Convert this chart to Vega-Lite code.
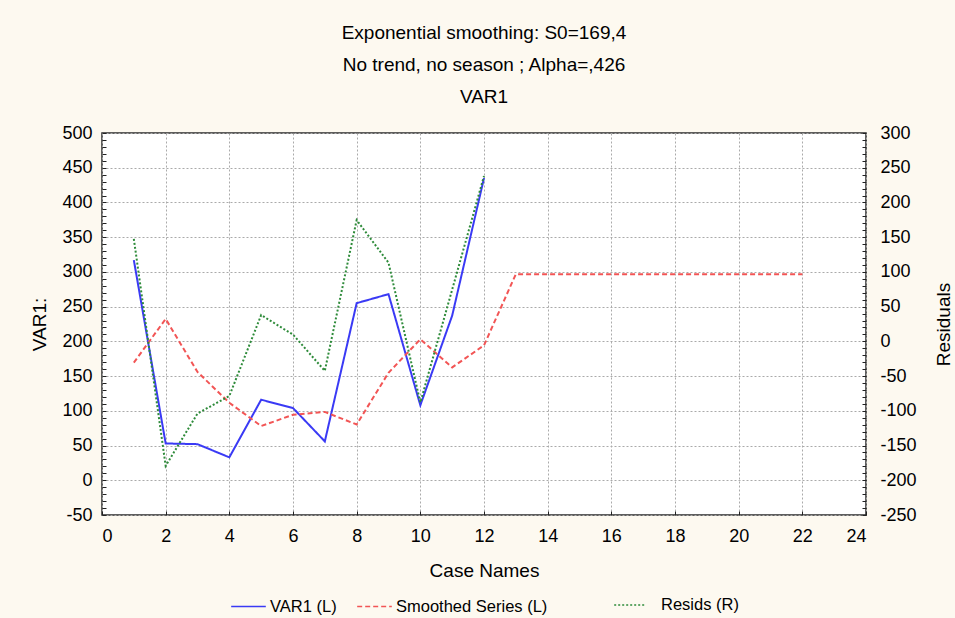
{
  "$schema": "https://vega.github.io/schema/vega-lite/v6.json",
  "width": 764,
  "height": 382,
  "autosize": {"type": "none"},
  "padding": {"left": 102, "top": 133, "right": 89, "bottom": 103},
  "background": "#fdf9f0",
  "title": {
    "text": ["Exponential smoothing: S0=169,4", "No trend, no season ; Alpha=,426", "VAR1"],
    "font": "Liberation Sans",
    "fontSize": 19,
    "fontWeight": "normal",
    "color": "#000",
    "lineHeight": 32,
    "anchor": "middle",
    "offset": 17
  },
  "config": {
    "view": {"fill": "white", "stroke": "#2a2a2a", "strokeWidth": 1.5},
    "font": "Liberation Sans",
    "axis": {
      "labelFont": "Liberation Sans",
      "labelFontSize": 18,
      "labelColor": "#000",
      "titleFont": "Liberation Sans",
      "titleFontSize": 19,
      "titleFontWeight": "normal",
      "titleColor": "#000",
      "domain": false,
      "tickColor": "#222",
      "labelOverlap": false
    },
    "legend": {
      "labelFont": "Liberation Sans",
      "labelFontSize": 16.5,
      "labelColor": "#000"
    }
  },
  "datasets": {
    "series": [
      {"case": 1, "series": "VAR1 (L)", "value": 317},
      {"case": 2, "series": "VAR1 (L)", "value": 53},
      {"case": 3, "series": "VAR1 (L)", "value": 52},
      {"case": 4, "series": "VAR1 (L)", "value": 33},
      {"case": 5, "series": "VAR1 (L)", "value": 116},
      {"case": 6, "series": "VAR1 (L)", "value": 104},
      {"case": 7, "series": "VAR1 (L)", "value": 56},
      {"case": 8, "series": "VAR1 (L)", "value": 255},
      {"case": 9, "series": "VAR1 (L)", "value": 268},
      {"case": 10, "series": "VAR1 (L)", "value": 108},
      {"case": 11, "series": "VAR1 (L)", "value": 237},
      {"case": 12, "series": "VAR1 (L)", "value": 435},
      {"case": 1, "series": "Smoothed Series (L)", "value": 169.4},
      {"case": 2, "series": "Smoothed Series (L)", "value": 232.3},
      {"case": 3, "series": "Smoothed Series (L)", "value": 155.9},
      {"case": 4, "series": "Smoothed Series (L)", "value": 111.6},
      {"case": 5, "series": "Smoothed Series (L)", "value": 78.1},
      {"case": 6, "series": "Smoothed Series (L)", "value": 94.3},
      {"case": 7, "series": "Smoothed Series (L)", "value": 98.4},
      {"case": 8, "series": "Smoothed Series (L)", "value": 80.3},
      {"case": 9, "series": "Smoothed Series (L)", "value": 154.8},
      {"case": 10, "series": "Smoothed Series (L)", "value": 203.0},
      {"case": 11, "series": "Smoothed Series (L)", "value": 162.5},
      {"case": 12, "series": "Smoothed Series (L)", "value": 194.3},
      {"case": 13, "series": "Smoothed Series (L)", "value": 296.8},
      {"case": 14, "series": "Smoothed Series (L)", "value": 296.8},
      {"case": 15, "series": "Smoothed Series (L)", "value": 296.8},
      {"case": 16, "series": "Smoothed Series (L)", "value": 296.8},
      {"case": 17, "series": "Smoothed Series (L)", "value": 296.8},
      {"case": 18, "series": "Smoothed Series (L)", "value": 296.8},
      {"case": 19, "series": "Smoothed Series (L)", "value": 296.8},
      {"case": 20, "series": "Smoothed Series (L)", "value": 296.8},
      {"case": 21, "series": "Smoothed Series (L)", "value": 296.8},
      {"case": 22, "series": "Smoothed Series (L)", "value": 296.8}
    ],
    "resids": [
      {"case": 1, "series": "Resids (R)", "value": 147.6},
      {"case": 2, "series": "Resids (R)", "value": -179.3},
      {"case": 3, "series": "Resids (R)", "value": -103.9},
      {"case": 4, "series": "Resids (R)", "value": -78.6},
      {"case": 5, "series": "Resids (R)", "value": 37.9},
      {"case": 6, "series": "Resids (R)", "value": 9.7},
      {"case": 7, "series": "Resids (R)", "value": -42.4},
      {"case": 8, "series": "Resids (R)", "value": 174.7},
      {"case": 9, "series": "Resids (R)", "value": 113.3},
      {"case": 10, "series": "Resids (R)", "value": -88},
      {"case": 11, "series": "Resids (R)", "value": 74.5},
      {"case": 12, "series": "Resids (R)", "value": 238}
    ]
  },
  "layer": [
    {
      "data": {"name": "series"},
      "mark": {"type": "line", "strokeWidth": 2, "clip": true},
      "encoding": {
        "x": {
          "field": "case",
          "type": "quantitative",
          "scale": {"domain": [0, 24], "nice": false},
          "axis": {
            "title": "Case Names",
            "values": [0, 2, 4, 6, 8, 10, 12, 14, 16, 18, 20, 22, 24],
            "tickSize": -4,
            "labelPadding": 16,
            "titlePadding": 16,
            "grid": true,
            "gridColor": "#aaaaaa",
            "gridDash": [2, 2],
            "gridWidth": 1
          }
        },
        "y": {
          "field": "value",
          "type": "quantitative",
          "scale": {"domain": [-50, 500], "nice": false, "zero": false},
          "axis": {
            "title": "VAR1:",
            "values": [-50,-40,-30,-20,-10,0,10,20,30,40,50,60,70,80,90,100,110,120,130,140,150,160,170,180,190,200,210,220,230,240,250,260,270,280,290,300,310,320,330,340,350,360,370,380,390,400,410,420,430,440,450,460,470,480,490,500],
            "labelExpr": "datum.value % 50 === 0 ? '' + datum.value : ''",
            "tickSize": -4,
            "labelPadding": 14,
            "titlePadding": 12,
            "grid": true,
            "gridColor": "#aaaaaa",
            "gridDash": [2, 2],
            "gridOpacity": {"condition": {"test": "datum.value % 50 === 0", "value": 1}, "value": 0}
          }
        },
        "color": {
          "field": "series",
          "type": "nominal",
          "scale": {"domain": ["VAR1 (L)", "Smoothed Series (L)"], "range": ["#3a3af5", "#f25555"]},
          "legend": {
            "orient": "none",
            "legendX": 128,
            "legendY": 455,
            "direction": "horizontal",
            "title": null,
            "symbolType": "stroke",
            "symbolSize": 1200,
            "symbolStrokeWidth": 1.5,
            "columnPadding": 17,
            "labelOffset": 3
          }
        },
        "strokeDash": {
          "field": "series",
          "type": "nominal",
          "scale": {"domain": ["VAR1 (L)", "Smoothed Series (L)"], "range": [[1, 0], [5, 3]]},
          "legend": {
            "orient": "none",
            "legendX": 128,
            "legendY": 455,
            "direction": "horizontal",
            "title": null,
            "symbolType": "stroke",
            "symbolSize": 1200,
            "symbolStrokeWidth": 1.5,
            "columnPadding": 17,
            "labelOffset": 3
          }
        }
      }
    },
    {
      "data": {"name": "resids"},
      "mark": {"type": "line", "strokeWidth": 2, "clip": true},
      "encoding": {
        "x": {"field": "case", "type": "quantitative"},
        "y": {
          "field": "value",
          "type": "quantitative",
          "scale": {"domain": [-250, 300], "nice": false, "zero": false},
          "axis": {
            "title": "Residuals",
            "orient": "right",
            "titleAngle": 270,
            "titleBaseline": "bottom",
            "values": [-250,-240,-230,-220,-210,-200,-190,-180,-170,-160,-150,-140,-130,-120,-110,-100,-90,-80,-70,-60,-50,-40,-30,-20,-10,0,10,20,30,40,50,60,70,80,90,100,110,120,130,140,150,160,170,180,190,200,210,220,230,240,250,260,270,280,290,300],
            "labelExpr": "datum.value % 50 === 0 ? '' + datum.value : ''",
            "tickSize": -4,
            "labelPadding": 18,
            "titlePadding": 37,
            "grid": false
          }
        },
        "color": {
          "field": "series",
          "type": "nominal",
          "scale": {"domain": ["Resids (R)"], "range": ["#2e8b3a"]},
          "legend": {
            "orient": "none",
            "legendX": 511,
            "legendY": 455,
            "direction": "horizontal",
            "title": null,
            "symbolType": "stroke",
            "symbolSize": 1000,
            "symbolStrokeWidth": 1.5,
            "labelOffset": 14
          }
        },
        "strokeDash": {
          "field": "series",
          "type": "nominal",
          "scale": {"domain": ["Resids (R)"], "range": [[2, 2]]},
          "legend": {
            "orient": "none",
            "legendX": 511,
            "legendY": 455,
            "direction": "horizontal",
            "title": null,
            "symbolType": "stroke",
            "symbolSize": 1000,
            "symbolStrokeWidth": 1.5,
            "labelOffset": 14
          }
        }
      }
    }
  ],
  "resolve": {"scale": {"y": "independent", "color": "independent", "strokeDash": "independent"}}
}
